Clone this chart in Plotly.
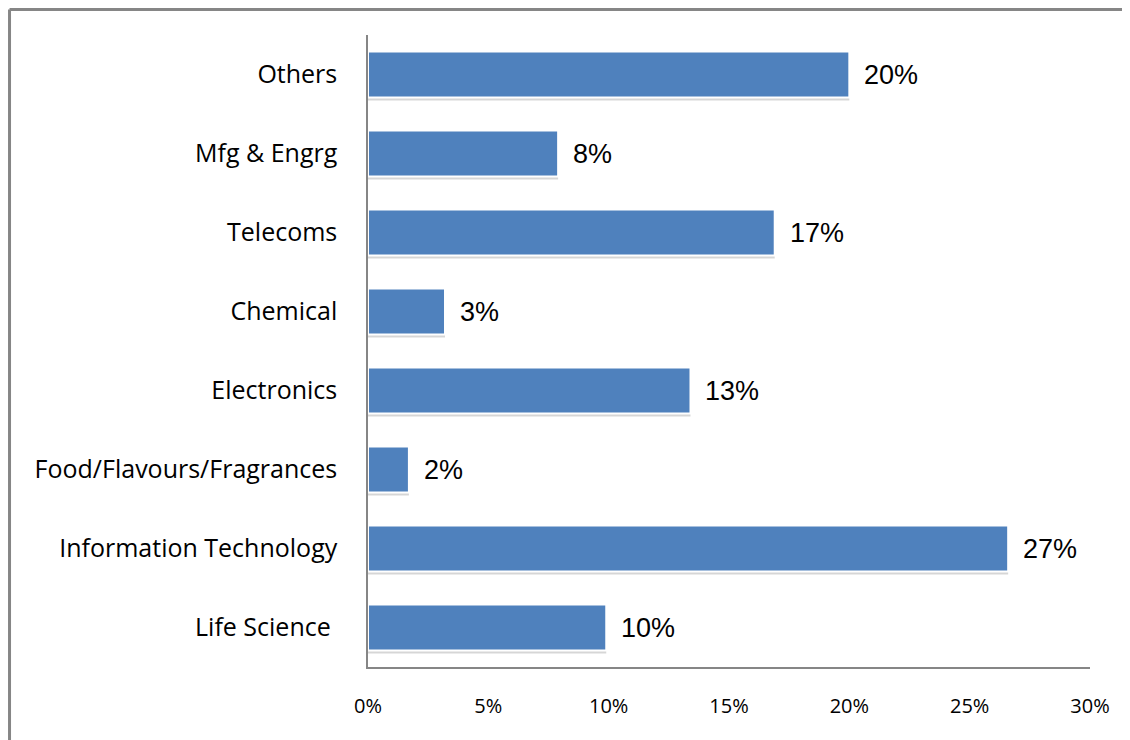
import plotly.graph_objects as go

categories = ["Life Science ", "Information Technology", "Food/Flavours/Fragrances",
              "Electronics", "Chemical", "Telecoms", "Mfg & Engrg", "Others"]
values = [9.9, 26.6, 1.7, 13.4, 3.2, 16.9, 7.9, 20.0]
value_labels = ["10%", "27%", "2%", "13%", "3%", "17%", "8%", "20%"]
tick_vals = [0, 5, 10, 15, 20, 25, 30]
tick_text = ["0%", "5%", "10%", "15%", "20%", "25%", "30%"]

fig = go.Figure()
# soft shadow
fig.add_trace(go.Bar(
    y=categories, x=values, orientation="h",
    marker=dict(color="rgba(0,0,0,0.16)", line=dict(width=0)),
    width=0.58, offset=-0.33, hoverinfo="skip", showlegend=False,
))
fig.add_trace(go.Bar(
    y=categories, x=values, orientation="h",
    marker=dict(color="#4F81BD", line=dict(color="white", width=2)),
    width=0.58, offset=-0.29, showlegend=False,
))
fig.update_layout(barmode="overlay")

for c, v, t in zip(categories, values, value_labels):
    fig.add_annotation(x=v, y=c, text=t, showarrow=False, xanchor="left",
                       xshift=13, font=dict(family="Liberation Sans, Arial", size=27, color="black"))

fig.update_layout(
    width=1130, height=740,
    paper_bgcolor="white", plot_bgcolor="white",
    margin=dict(l=360, r=48, t=27, b=81),
    xaxis=dict(range=[0, 30], tickvals=tick_vals, ticktext=tick_text, showgrid=False,
               zeroline=False, showline=True, linecolor="#868686", linewidth=2,
               ticks="", ticklabelstandoff=20,
               tickfont=dict(family="Open Sans, Lato, sans-serif", size=20, color="black")),
    yaxis=dict(categoryorder="array", categoryarray=categories, range=[-0.5, 7.5],
               showgrid=False, zeroline=False, showline=True, linecolor="#868686",
               linewidth=1.5, ticks="", ticklabelstandoff=24,
               tickfont=dict(family="Open Sans, Lato, sans-serif", size=25, color="black")),
    shapes=[
        dict(type="line", xref="paper", yref="paper", x0=-0.4965, x1=1.08, y0=1.0403, y1=1.0403,
             line=dict(color="#868686", width=3)),
        dict(type="line", xref="paper", yref="paper", x0=-0.4965, x1=-0.4965, y0=1.0403, y1=-0.2,
             line=dict(color="#868686", width=3)),
    ],
)

fig.write_html("out.html")
